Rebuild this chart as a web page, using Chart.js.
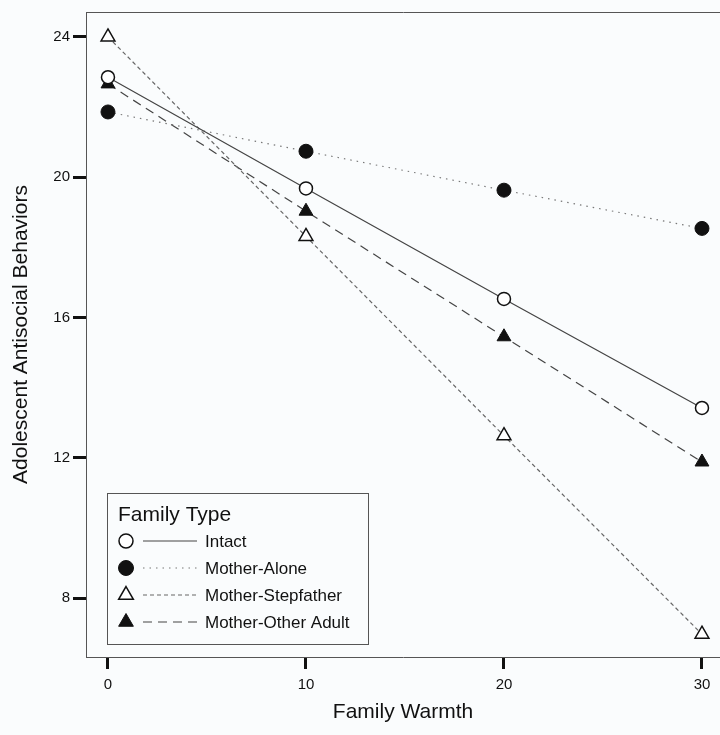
<!DOCTYPE html>
<html lang="en">
<head>
  <meta charset="UTF-8">
  <title>Family Warmth and Adolescent Antisocial Behaviors</title>
  <script src="https://cdn.jsdelivr.net/npm/chart.js"></script>
  <style>
    body {
      margin: 0;
      background-color: #fafcfd;
    }
    canvas {
      display: block;
    }
  </style>
</head>
<body>
  <canvas id="miCanvas" width="720" height="735"></canvas>

  <script>
    // values
    const warmth = [0, 10, 20, 30];
    const intact = [22.85, 19.68, 16.53, 13.42];
    const motherAlone = [21.86, 20.74, 19.63, 18.54];
    const motherStepfather = [24.0, 18.31, 12.63, 6.97];
    const motherOtherAdult = [22.66, 19.03, 15.45, 11.88];
    const xTicks = [0, 10, 20, 30];
    const yTicks = [8, 12, 16, 20, 24];
    const seriesNames = ["Intact", "Mother-Alone", "Mother-Stepfather", "Mother-Other Adult"];

    const FONT = "'Liberation Sans', Arial, sans-serif";
    const toPoints = (vals) => warmth.map((w, i) => ({ x: w, y: vals[i] }));

    const legendBox = {
      id: "legendBox",
      afterDraw(chart) {
        const ctx = chart.ctx;
        const area = chart.chartArea;
        const left = area.left + 21;
        const top = area.bottom - 164;
        const w = 261, h = 151;
        ctx.save();
        ctx.strokeStyle = "#555";
        ctx.lineWidth = 1;
        ctx.strokeRect(left + 0.5, top + 0.5, w, h);

        ctx.fillStyle = "#111";
        ctx.textBaseline = "middle";
        ctx.font = "21px " + FONT;
        ctx.fillText("Family Type", left + 11, top + 22);

        ctx.font = "17px " + FONT;
        chart.data.datasets.forEach((ds, i) => {
          const y = top + 48 + i * 27;
          const mx = left + 19;
          // sample line
          ctx.strokeStyle = ds.borderColor;
          ctx.lineWidth = ds.borderWidth;
          ctx.setLineDash(ds.borderDash || []);
          ctx.beginPath();
          ctx.moveTo(left + 36, y);
          ctx.lineTo(left + 90, y);
          ctx.stroke();
          ctx.setLineDash([]);
          // marker
          const r = ds.pointRadius + 0.5;
          ctx.beginPath();
          if (ds.pointStyle === "triangle") {
            ctx.moveTo(mx, y - r);
            ctx.lineTo(mx + Math.sin(Math.PI * 2 / 3) * r, y + r / 2);
            ctx.lineTo(mx - Math.sin(Math.PI * 2 / 3) * r, y + r / 2);
            ctx.closePath();
          } else {
            ctx.arc(mx, y, r, 0, Math.PI * 2);
          }
          ctx.fillStyle = ds.pointBackgroundColor;
          ctx.fill();
          ctx.strokeStyle = ds.pointBorderColor;
          ctx.lineWidth = ds.pointBorderWidth;
          ctx.stroke();
          ctx.fillStyle = "#111";
          ctx.fillText(ds.label, left + 98, y + 1);
        });
        ctx.restore();
      }
    };

    const tickGrid = {
      drawOnChartArea: false,
      drawTicks: true,
      tickLength: 12,
      tickWidth: 3,
      tickColor: "#111"
    };

    const noPad = (s) => { s.paddingLeft = 0; s.paddingRight = 0; s.paddingTop = 0; s.paddingBottom = 0; };

    const ctx = document.getElementById("miCanvas").getContext("2d");
    new Chart(ctx, {
      type: "line",
      data: {
        datasets: [
          {
            label: seriesNames[0],
            data: toPoints(intact),
            borderColor: "#444",
            borderWidth: 1.2,
            pointStyle: "circle",
            pointRadius: 6.5,
            pointBackgroundColor: "#fff",
            pointBorderColor: "#111",
            pointBorderWidth: 1.5
          },
          {
            label: seriesNames[1],
            data: toPoints(motherAlone),
            borderColor: "#777",
            borderWidth: 1.2,
            borderDash: [1.5, 5],
            pointStyle: "circle",
            pointRadius: 7,
            pointBackgroundColor: "#111",
            pointBorderColor: "#111",
            pointBorderWidth: 1
          },
          {
            label: seriesNames[2],
            data: toPoints(motherStepfather),
            borderColor: "#666",
            borderWidth: 1.2,
            borderDash: [4, 3],
            pointStyle: "triangle",
            pointRadius: 8,
            pointBackgroundColor: "#fff",
            pointBorderColor: "#111",
            pointBorderWidth: 1.5
          },
          {
            label: seriesNames[3],
            data: toPoints(motherOtherAdult),
            borderColor: "#444",
            borderWidth: 1.2,
            borderDash: [9, 6],
            pointStyle: "triangle",
            pointRadius: 8,
            pointBackgroundColor: "#111",
            pointBorderColor: "#111",
            pointBorderWidth: 1
          }
        ]
      },
      options: {
        responsive: false,
        animation: false,
        devicePixelRatio: 1,
        layout: { padding: 0, autoPadding: false },
        plugins: {
          legend: { display: false },
          tooltip: { enabled: false }
        },
        scales: {
          x: {
            type: "linear",
            position: "bottom",
            min: -1.11,
            max: 30.91,
            afterBuildTicks: (s) => { s.ticks = xTicks.map(v => ({ value: v })); },
            afterFit: (s) => { s.height = 78; noPad(s); },
            grid: tickGrid,
            border: { display: true, color: "#555", width: 1 },
            ticks: { font: { size: 15, family: FONT }, color: "#111", padding: 7 },
            title: {
              display: true,
              text: "Family Warmth",
              font: { size: 21, family: FONT },
              color: "#111",
              padding: { top: 0, bottom: 10 }
            }
          },
          xTop: {
            type: "linear",
            position: "top",
            display: true,
            min: -1.11,
            max: 30.91,
            afterFit: (s) => { s.height = 12; noPad(s); },
            ticks: { display: false },
            grid: { display: false },
            border: { display: true, color: "#555", width: 1 }
          },
          y: {
            min: 6.32,
            max: 24.71,
            afterBuildTicks: (s) => { s.ticks = yTicks.map(v => ({ value: v })); },
            afterFit: (s) => { s.width = 86; noPad(s); },
            grid: { ...tickGrid, tickLength: 13 },
            border: { display: true, color: "#555", width: 1 },
            ticks: { font: { size: 15, family: FONT }, color: "#111", padding: 3 },
            title: {
              display: true,
              text: "Adolescent Antisocial Behaviors",
              font: { size: 21, family: FONT },
              color: "#111",
              padding: { top: 9, bottom: 0 }
            }
          }
        }
      },
      plugins: [legendBox]
    });
  </script>
</body>
</html>
